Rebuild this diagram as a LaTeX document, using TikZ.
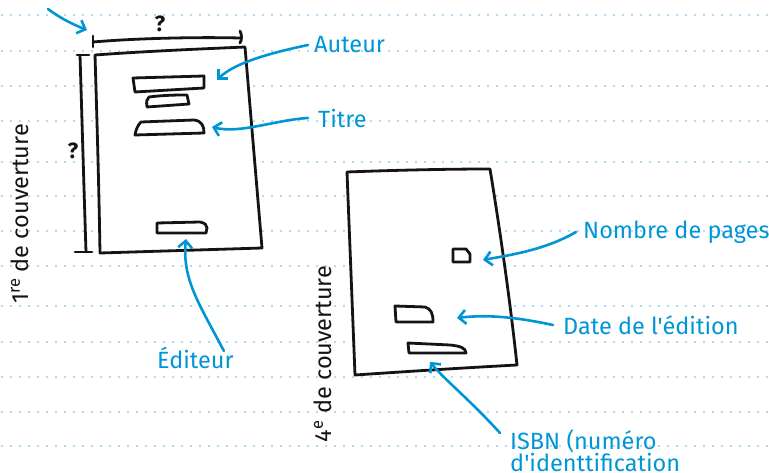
\documentclass[tikz,border=0pt]{standalone}
\usepackage{fontspec}
\setmainfont{Fira Sans}[Ligatures=TeXOff]
\usetikzlibrary{arrows.meta}
\definecolor{lblue}{RGB}{0,150,214}
\definecolor{dotblue}{RGB}{150,205,240}
\definecolor{ink}{RGB}{20,20,20}
\tikzset{
  dotline/.style={dotblue, line width=2.4pt, line cap=round, dash pattern=on 0pt off 9pt},
  sketch/.style={ink, line width=2.8pt, line join=round, line cap=round},
  cover/.style={sketch, fill=white},
  lab/.style={lblue, font=\fontsize{23.5}{22.5}\selectfont, inner sep=0pt, anchor=west, align=left},
  side/.style={ink, font=\fontsize{23.5}{27}\selectfont, inner sep=0pt, rotate=90},
  qmark/.style={ink, font=\fontsize{22}{24}\selectfont\bfseries, inner sep=0pt},
  callout/.style={lblue, line width=2.6pt, line cap=round, -{Straight Barb[length=7pt,width=14pt]}},
}
\begin{document}
\begin{tikzpicture}[x=1pt,y=-1pt]
\useasboundingbox (0,0) rectangle (769,473);
% ruled paper
\foreach \yy in {15,51,86,121,162,196,231,266,306,342,377,412,446}
  \draw[dotline] (2,\yy) -- (769,\yy);

% side labels
\node[side] (front) at (20,214) {1\textsuperscript{re} de couverture};
\node[side] (back) at (323,354) {4\textsuperscript{e} de couverture};

% front cover
\draw[cover] (95,55) .. controls (150,51) and (200,49) .. (245,47) -- (262,248) -- (100,253) .. controls (99,190) and (97,120) .. cycle;
\draw[sketch] (133,78) -- (204,76) -- (204,88) -- (135,92) -- cycle;
\draw[sketch] (149,97) .. controls (165,95) and (178,95) .. (187,95) -- (189,104) -- (147,107) .. controls (146,101) and (147,99) .. cycle;
\draw[sketch] (141,122) -- (194,120) .. controls (202,121) and (204,126) .. (204,133) -- (135,135) .. controls (136,129) and (138,125) .. cycle;
\draw[sketch] (157,223) -- (200,222) .. controls (205,223) and (207,225) .. (207,228) -- (206,233) -- (157,233) -- cycle;

% dimension lines
\draw[sketch] (93,42) .. controls (140,38) and (200,37) .. (240,38);
\draw[sketch] (93,36) -- (93,47);
\draw[sketch] (240,31) .. controls (242,35) and (242,40) .. (240,43);
\draw[sketch] (80,55) .. controls (82,120) and (84,190) .. (86,252);
\draw[sketch] (77,55) -- (89,55);
\draw[sketch] (75,252) -- (92,252);
\node[qmark] (qtop) at (160,24) {?};
\node[qmark] (qleft) at (73,151) {?};

% back cover
\draw[cover] (347,172) .. controls (400,170) and (450,169) .. (490,169) .. controls (500,230) and (510,300) .. (517,365) .. controls (460,368) and (400,372) .. (355,375) -- cycle;
\draw[sketch] (453,249) -- (466,249) -- (470,254) -- (470,262) -- (453,262) -- cycle;
\draw[sketch] (395,306) -- (425,307) .. controls (431,309) and (433,313) .. (433,322) -- (396,322) -- cycle;
\draw[sketch] (408,343) -- (450,345) .. controls (460,346) and (466,348) .. (466,353) -- (409,353) -- cycle;

% labels
\node[lab] (aut) at (314,45) {Auteur};
\node[lab] (tit) at (318,118) {Titre};
\node[lab] (edi) at (157,358) {Éditeur};
\node[lab] (nbp) at (583,232) {Nombre de pages};
\node[lab] (dat) at (563,325) {Date de l'édition};
\node[lab, anchor=north west] (isbn) at (510,429) {ISBN (numéro\\d'identtification};

% arrow targets
\coordinate (tAut) at (217,80);
\coordinate (tTit) at (212,127);
\coordinate (tEdi) at (186,239);
\coordinate (tNbp) at (483,260);
\coordinate (tDat) at (457,318);
\coordinate (tIsbn) at (430,362);
\coordinate (sCorner) at (48,9);
\coordinate (tCorner) at (87,30);

% callouts
\draw[callout] ([xshift=-6pt]aut.west) .. controls (275,52) and (235,62) .. (tAut);
\draw[callout] ([xshift=-10pt]tit.west) .. controls (275,120) and (240,134) .. (tTit);
\draw[callout] ([xshift=-10pt,yshift=-4pt]edi.north east) .. controls (200,305) and (182,280) .. (tEdi);
\draw[callout] ([xshift=-7pt]nbp.west) .. controls (545,250) and (510,255) .. (tNbp);
\draw[callout] ([xshift=-10pt]dat.west) .. controls (520,318) and (490,314) .. (tDat);
\draw[callout] ([xshift=-10pt,yshift=-4pt]isbn.north west) .. controls (470,400) and (445,380) .. (tIsbn);
\draw[callout] (sCorner) .. controls (60,18) and (72,24) .. (tCorner);
\end{tikzpicture}
\end{document}
